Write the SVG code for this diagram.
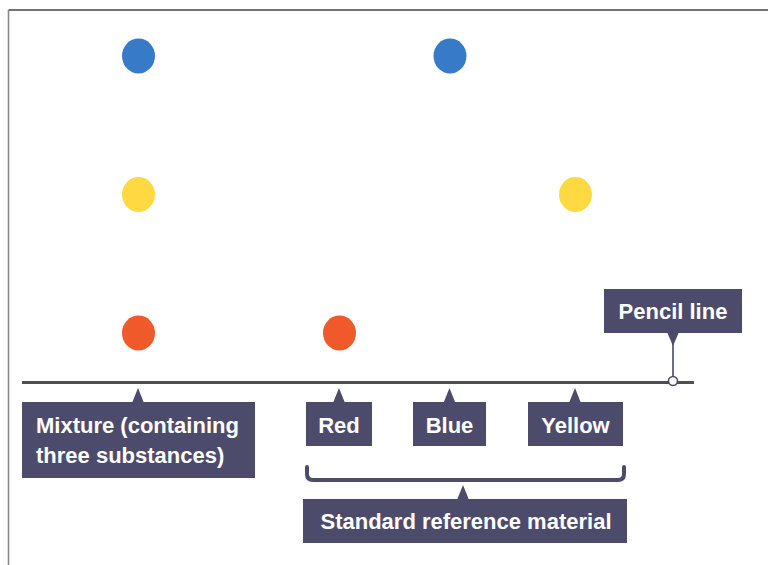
<svg xmlns="http://www.w3.org/2000/svg" width="768" height="565" viewBox="0 0 768 565">
<style>
.lbl{fill:#4d4b6b}
.txt{fill:#ffffff;font-family:"Liberation Sans",Arial,sans-serif;font-weight:bold;font-size:22px}
.mid{text-anchor:middle}
.blue{fill:#377bc8}
.yellow{fill:#ffd942}
.red{fill:#f05a2a}
</style>
<rect width="768" height="565" fill="#ffffff"/>
<g id="frame">
<line x1="8.5" y1="10" x2="768" y2="10" stroke="#444" stroke-width="1.6"/>
<line x1="8.5" y1="10" x2="8.5" y2="565" stroke="#888" stroke-width="1.6"/>
</g>
<g id="spots">
<ellipse class="blue" cx="138.5" cy="56" rx="16.5" ry="17.5"/>
<ellipse class="blue" cx="450" cy="56" rx="16.5" ry="17.5"/>
<ellipse class="yellow" cx="138.5" cy="194.5" rx="16.5" ry="17.5"/>
<ellipse class="yellow" cx="575.5" cy="194.5" rx="16.5" ry="17.5"/>
<ellipse class="red" cx="138.5" cy="333" rx="16.5" ry="17.5"/>
<ellipse class="red" cx="339.5" cy="333" rx="16.5" ry="17.5"/>
</g>
<g id="connectors">
<line x1="22" y1="382.5" x2="694" y2="382.5" stroke="#4f4f4f" stroke-width="3"/>
<line x1="673" y1="340" x2="673" y2="377" stroke="#6e6d88" stroke-width="2"/>
<path d="M307 467 V474 Q307 480 313 480 H618 Q624 480 624 474 V467" fill="none" stroke="#4d4b6b" stroke-width="4" stroke-linecap="round"/>
</g>
<g id="pencil-line">
<rect class="lbl" x="604" y="289" width="138" height="44"/>
<path class="lbl" d="M667 332 L679 332 L673 346 Z"/>
<text class="txt mid" x="673" y="319">Pencil line</text>
<circle cx="673" cy="381" r="4.5" fill="#ffffff" stroke="#4d4b6b" stroke-width="1.6"/>
</g>
<g id="mixture">
<rect class="lbl" x="22" y="402" width="233" height="76"/>
<path class="lbl" d="M132 403 L144 403 L138 388 Z"/>
<text class="txt" x="36" y="433">Mixture (containing</text>
<text class="txt" x="36" y="463">three substances)</text>
</g>
<g id="red">
<rect class="lbl" x="306" y="402" width="66" height="44"/>
<path class="lbl" d="M333 403 L345 403 L339 388 Z"/>
<text class="txt mid" x="339" y="433">Red</text>
</g>
<g id="blue">
<rect class="lbl" x="413" y="402" width="73" height="44"/>
<path class="lbl" d="M443.5 403 L455.5 403 L449.5 388 Z"/>
<text class="txt mid" x="449.5" y="433">Blue</text>
</g>
<g id="yellow">
<rect class="lbl" x="528" y="402" width="95" height="44"/>
<path class="lbl" d="M569 403 L581 403 L575 388 Z"/>
<text class="txt mid" x="575.5" y="433">Yellow</text>
</g>
<g id="standard">
<rect class="lbl" x="303" y="499" width="324" height="44"/>
<path class="lbl" d="M457 500 L469 500 L463 485 Z"/>
<text class="txt mid" x="466" y="529">Standard reference material</text>
</g>
</svg>
